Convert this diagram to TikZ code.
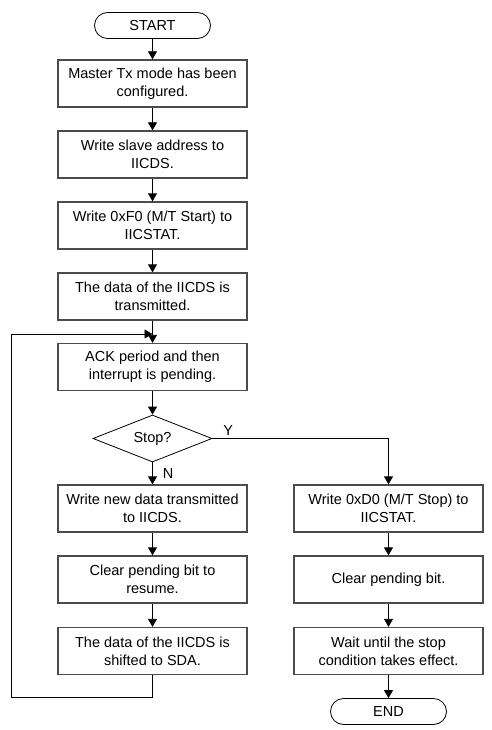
\documentclass[tikz,border=0pt]{standalone}
\usepackage{fontspec}
\setmainfont{Liberation Sans}
\usetikzlibrary{shapes.misc,shapes.geometric,arrows.meta}
\begin{document}
\begin{tikzpicture}[x=1pt,y=-1pt,
  font=\fontsize{14.5pt}{18pt}\selectfont,
  box/.style={draw=black!70, line width=1.3pt, minimum width=189pt, minimum height=47pt, align=center, inner sep=2pt},
  term/.style={draw=black, line width=0.8pt, rounded rectangle, minimum width=118pt, minimum height=26pt, inner sep=1pt},
  dec/.style={draw=black, line width=0.8pt, diamond, aspect=2.53, minimum width=119pt, minimum height=47pt, inner sep=0pt},
  conn/.style={draw=black, line width=0.8pt},
  arr/.style={conn, -{Triangle[length=8pt,width=9pt]}},
  lbl/.style={inner sep=0pt}]
\useasboundingbox (0,0) rectangle (491,730);
\node[term] (start) at (152.5,25.5) {START};
\node[box] (b1) at (152.5,83.5) {Master Tx mode has been\\configured.};
\node[box] (b2) at (152.5,154.5) {Write slave address to\\IICDS.};
\node[box] (b3) at (152.5,225.5) {Write 0xF0 (M/T Start) to\\IICSTAT.};
\node[box] (b4) at (152.5,296.5) {The data of the IICDS is\\transmitted.};
\node[box] (b5) at (152.5,367) {ACK period and then\\interrupt is pending.};
\node[dec] (dia) at (152.5,438.5) {Stop?};
\node[box] (b6) at (152.5,508.5) {Write new data transmitted\\to IICDS.};
\node[box] (b7) at (152.5,579.5) {Clear pending bit to\\resume.};
\node[box] (b8) at (152.5,651) {The data of the IICDS is\\shifted to SDA.};
\node[box] (r1) at (388.5,508.5) {Write 0xD0 (M/T Stop) to\\IICSTAT.};
\node[box] (r2) at (388.5,579.5) {Clear pending bit.};
\node[box] (r3) at (388.5,651) {Wait until the stop\\condition takes effect.};
\node[term] (end) at (388.5,711.5) {END};
\coordinate (fb) at (152.5,334);
\draw[arr] (start) -- (b1);
\draw[arr] (b1) -- (b2);
\draw[arr] (b2) -- (b3);
\draw[arr] (b3) -- (b4);
\draw[arr] (b4) -- (b5);
\draw[arr] (b5) -- (dia);
\draw[arr] (dia) -- node[lbl, right=10pt, pos=0.5] {N} (b6);
\draw[arr] (dia.east) -- node[lbl, above=3pt, pos=0.09] {Y} (dia.east -| r1.north) -- (r1);
\draw[arr] (b6) -- (b7);
\draw[arr] (b7) -- (b8);
\draw[arr] (r1) -- (r2);
\draw[arr] (r2) -- (r3);
\draw[arr] (r3) -- (end);
\draw[arr] (b8.south) -- ++(0,22) -| (11,334) -- (fb);
\end{tikzpicture}
\end{document}
